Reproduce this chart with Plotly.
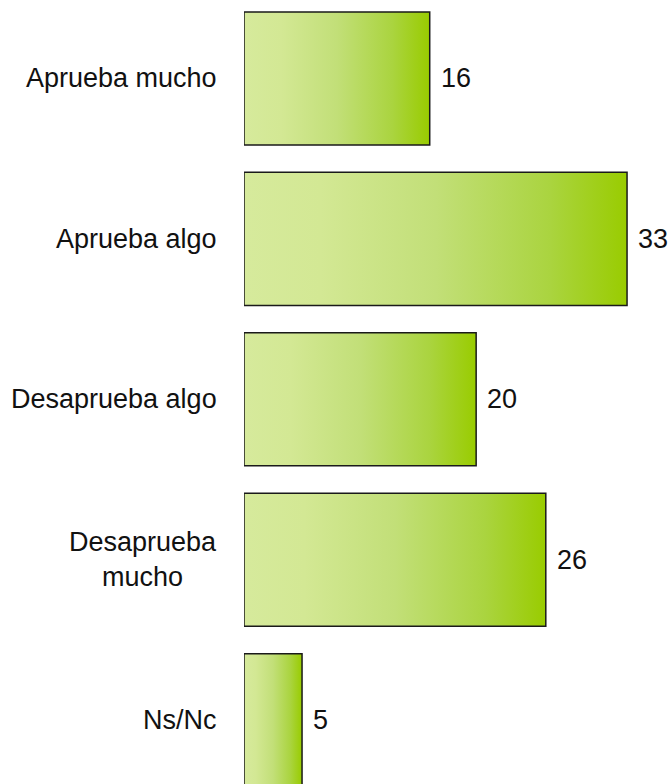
import plotly.graph_objects as go

categories = ["Aprueba mucho", "Aprueba algo", "Desaprueba algo", "Desaprueba<br>mucho", "Ns/Nc"]
values = [16, 33, 20, 26, 5]

colorscale = [[0, "#d6ea9c"], [0.2, "#d3e894"], [0.5, "#c2df78"], [0.8, "#aad43f"], [1, "#99cc00"]]
half = 0.4146

fig = go.Figure()
for i, (c, v) in enumerate(zip(categories, values)):
    fig.add_trace(go.Scatter(
        x=[0, v, v, 0, 0], y=[i - half, i - half, i + half, i + half, i - half],
        mode="lines", fill="toself",
        fillgradient=dict(type="horizontal", colorscale=colorscale),
        line=dict(color="#1a1a1a", width=1.5),
        hoverinfo="skip", showlegend=False,
    ))
for i, v in enumerate(values):
    fig.add_annotation(x=v, xref="x", y=i, yref="y", text=str(v), showarrow=False,
                       xanchor="left", xshift=9,
                       font=dict(family="Liberation Sans", size=27, color="#111111"))
for i, c in enumerate(categories):
    fig.add_annotation(x=0, xref="paper", y=i, yref="y", text=c, showarrow=False,
                       xanchor="right", xshift=-25, align="center",
                       font=dict(family="Liberation Sans", size=27, color="#111111"))

fig.update_xaxes(range=[0, 36.7], visible=False, fixedrange=True)
fig.update_yaxes(range=[4.398, -0.489], visible=False, fixedrange=True)
fig.update_layout(width=670, height=784, margin=dict(l=244, r=0, t=0, b=0),
                  plot_bgcolor="white", paper_bgcolor="white")
fig.write_html("out.html", config={"displayModeBar": False},
               post_script="document.body.style.margin='0';document.body.style.overflow='hidden';")
